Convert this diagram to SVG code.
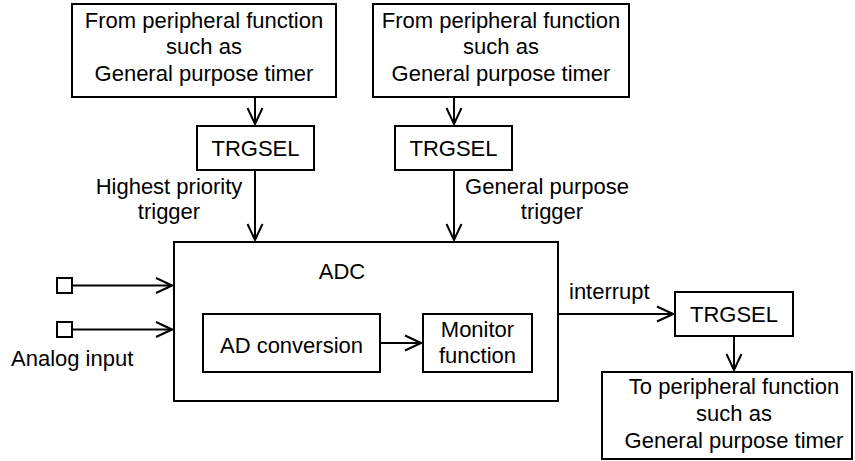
<svg xmlns="http://www.w3.org/2000/svg" width="855" height="461" viewBox="0 0 855 461">
<defs>
<marker id="arr" viewBox="0 0 18 18" refX="17" refY="9" markerWidth="18" markerHeight="18" markerUnits="userSpaceOnUse" orient="auto">
<path d="M1,1.5 L17,9 L1,16.5" fill="none" stroke="#000" stroke-width="2"/>
</marker>
<style>
rect{fill:#fff;stroke:#000;stroke-width:2}
text{font-family:"Liberation Sans",Arial,sans-serif;font-size:22px;fill:#000}
.c{text-anchor:middle}
.ln{stroke:#000;stroke-width:2;fill:none;marker-end:url(#arr)}
</style>
</defs>
<rect x="0" y="0" width="855" height="461" style="stroke:none;fill:#fff"/>
<g id="src1">
<rect x="72" y="4" width="264" height="93"/>
<text class="c" x="204" y="28">From peripheral function</text>
<text class="c" x="204" y="54">such as</text>
<text class="c" x="204" y="81">General purpose timer</text>
</g>
<g id="src2">
<rect x="373" y="4" width="256" height="93"/>
<text class="c" x="501" y="28">From peripheral function</text>
<text class="c" x="501" y="54">such as</text>
<text class="c" x="501" y="81">General purpose timer</text>
</g>
<g id="trg1">
<rect x="197" y="126" width="117" height="44"/>
<text class="c" x="255.5" y="156">TRGSEL</text>
</g>
<g id="trg2">
<rect x="395" y="126" width="117" height="44"/>
<text class="c" x="453.5" y="156">TRGSEL</text>
</g>
<g id="adc">
<rect x="174" y="242" width="384" height="159"/>
<text class="c" x="342" y="279">ADC</text>
</g>
<g id="adconv">
<rect x="203" y="314" width="177" height="58"/>
<text class="c" x="291.5" y="353">AD conversion</text>
</g>
<g id="monitor">
<rect x="423" y="314" width="109" height="58"/>
<text class="c" x="477.5" y="337">Monitor</text>
<text class="c" x="477.5" y="363">function</text>
</g>
<g id="trg3">
<rect x="675" y="292" width="118" height="44"/>
<text class="c" x="734" y="322">TRGSEL</text>
</g>
<g id="dst">
<rect x="602" y="372" width="250" height="87"/>
<text class="c" x="734" y="394">To peripheral function</text>
<text class="c" x="734" y="421">such as</text>
<text class="c" x="734" y="448">General purpose timer</text>
</g>
<g id="in1">
<rect x="57" y="278" width="15" height="15"/>
</g>
<g id="in2">
<rect x="57" y="322" width="15" height="15"/>
</g>
<g id="labels">
<text class="c" x="169" y="194">Highest priority</text>
<text class="c" x="169" y="219">trigger</text>
<text class="c" x="547" y="194">General purpose</text>
<text class="c" x="552" y="219">trigger</text>
<text x="569" y="299">interrupt</text>
<text x="11" y="366">Analog input</text>
</g>
<g id="connectors">
<line class="ln" x1="255" y1="97" x2="255" y2="124"/>
<line class="ln" x1="454" y1="97" x2="454" y2="124"/>
<line class="ln" x1="255" y1="170" x2="255" y2="240"/>
<line class="ln" x1="454" y1="170" x2="454" y2="240"/>
<line class="ln" x1="72" y1="285.5" x2="172" y2="285.5"/>
<line class="ln" x1="72" y1="329.5" x2="172" y2="329.5"/>
<line class="ln" x1="380" y1="343" x2="421" y2="343"/>
<line class="ln" x1="558" y1="314" x2="673" y2="314"/>
<line class="ln" x1="734" y1="336" x2="734" y2="370"/>
</g>
</svg>
